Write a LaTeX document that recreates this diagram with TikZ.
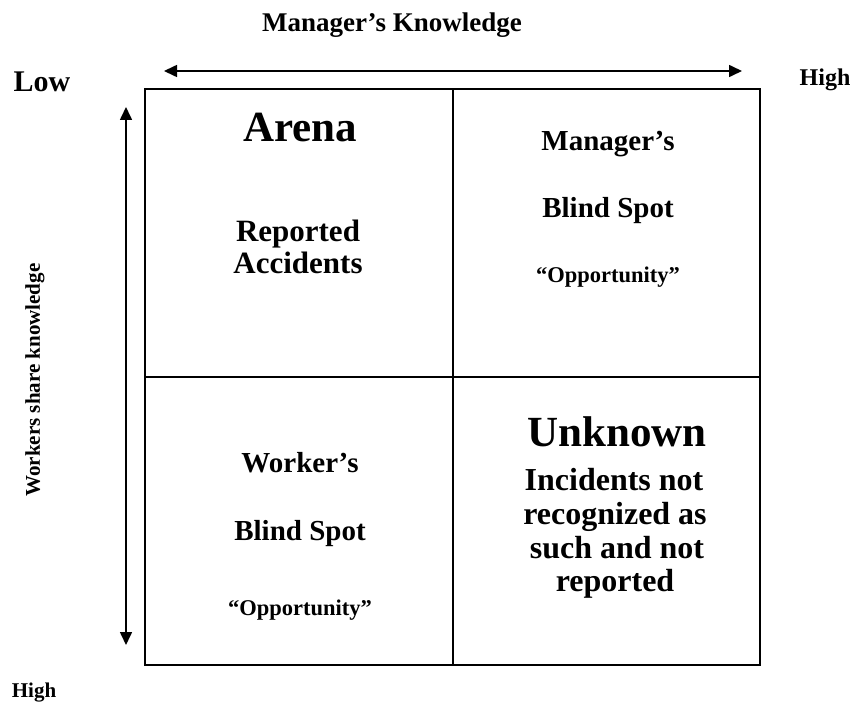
\documentclass[tikz,border=0pt]{standalone}
\usepackage{fontspec}
\setmainfont{Liberation Serif}
\usetikzlibrary{arrows.meta}
\begin{document}
\begin{tikzpicture}[x=1pt,y=-1pt,
  lbl/.style={font=\bfseries, anchor=base, inner sep=0pt},
  gridline/.style={line width=2.4pt},
  axis/.style={line width=1.6pt, {Triangle[length=13pt,width=12pt]}-{Triangle[length=13pt,width=12pt]}}]
\useasboundingbox (0,0) rectangle (856,706);
% grid
\coordinate (tl) at (145,89);
\coordinate (br) at (760,665);
\coordinate (tm) at (453,89);
\coordinate (bm) at (453,665);
\coordinate (ml) at (145,377);
\coordinate (mj) at (472,377);
\coordinate (mr) at (760,377);
\draw[gridline] (tl) rectangle (br);
\draw[gridline] (tm) -- (bm);
\draw[line width=2.8pt] (ml) -- (mj);
\draw[line width=2pt] (mj) -- (mr);
% axes
\coordinate (hl) at (164,71);
\coordinate (hr) at (742,71);
\coordinate (vt) at (126,107);
\coordinate (vb) at (126,645);
\draw[axis] (hl) -- (hr);
\draw[axis] (vt) -- (vb);
% axis labels
\node[lbl, font=\bfseries\fontsize{27}{27}\selectfont] (mk) at (392,32) {Manager’s Knowledge};
\node[lbl, font=\bfseries\fontsize{30}{30}\selectfont] (low) at (42,92) {Low};
\node[lbl, font=\bfseries\fontsize{24}{24}\selectfont] (hightop) at (825,86) {High};
\node[lbl, font=\bfseries\fontsize{21}{21}\selectfont] (highbot) at (34,697) {High};
\node[font=\bfseries\fontsize{21}{21}\selectfont, rotate=90, inner sep=0pt] (wsk) at (35,380) {Workers share knowledge};
% Arena
\node[lbl, font=\bfseries\fontsize{43}{43}\selectfont] (arena) at (300,142) {Arena};
\node[lbl, font=\bfseries\fontsize{31}{31}\selectfont] (rep) at (298,241) {Reported};
\node[lbl, font=\bfseries\fontsize{31}{31}\selectfont] (acc) at (298,273) {Accidents};
% Manager's blind spot
\node[lbl, font=\bfseries\fontsize{29}{29}\selectfont] (mgr) at (608,150) {Manager’s};
\node[lbl, font=\bfseries\fontsize{29}{29}\selectfont] (mbs) at (608,217) {Blind Spot};
\node[lbl, font=\bfseries\fontsize{22.5}{22.5}\selectfont] (mop) at (608,282) {“Opportunity”};
% Worker's blind spot
\node[lbl, font=\bfseries\fontsize{29}{29}\selectfont] (wkr) at (300,472) {Worker’s};
\node[lbl, font=\bfseries\fontsize{29}{29}\selectfont] (wbs) at (300,540) {Blind Spot};
\node[lbl, font=\bfseries\fontsize{22.5}{22.5}\selectfont] (wop) at (300,615) {“Opportunity”};
% Unknown
\node[lbl, font=\bfseries\fontsize{43}{43}\selectfont] (unk) at (617,446) {Unknown};
\node[lbl, font=\bfseries\fontsize{32}{32}\selectfont] (u1) at (614,490) {Incidents not};
\node[lbl, font=\bfseries\fontsize{32}{32}\selectfont] (u2) at (615,524) {recognized as};
\node[lbl, font=\bfseries\fontsize{32}{32}\selectfont] (u3) at (617,558) {such and not};
\node[lbl, font=\bfseries\fontsize{32}{32}\selectfont] (u4) at (615,591) {reported};
\end{tikzpicture}
\end{document}
